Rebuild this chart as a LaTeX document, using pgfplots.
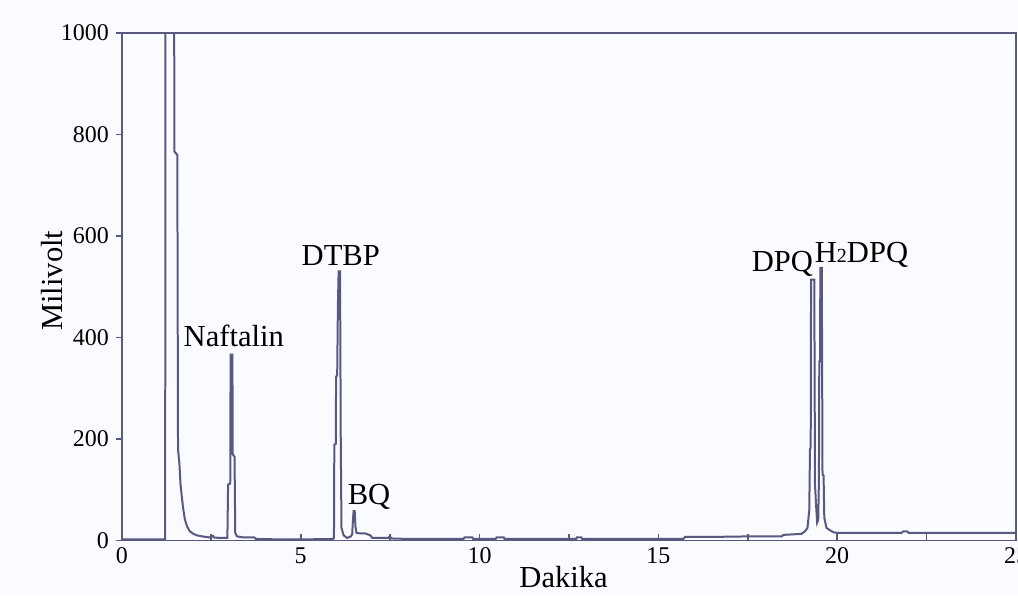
\documentclass[border=0pt]{standalone}
\usepackage{pgfplots}
\pgfplotsset{compat=1.18}
\usepackage{fontspec}
\setmainfont{Liberation Serif}

\definecolor{trace}{RGB}{88,88,128}
\definecolor{paper}{RGB}{249,251,254}

\pgfplotstableread{
t mv
0.00 2
1.18 2
1.21 2
1.22 1100
1.46 1100
1.47 766
1.55 760
1.57 180
1.61 150
1.64 110
1.67 90
1.71 65
1.76 42
1.82 28
1.90 18
2.00 13
2.10 10
2.25 8
2.45 6
2.55 9
2.57 6
2.70 5
2.95 5
2.97 110
3.03 112
3.04 366
3.09 366
3.10 170
3.15 165
3.17 15
3.22 8
3.40 6
3.70 6
3.75 3
4.50 2
5.00 2
5.90 3
5.93 5
5.94 189
5.98 190
5.99 323
6.02 325
6.04 461
6.06 530
6.10 530
6.12 200
6.14 25
6.20 10
6.30 5
6.40 8
6.44 12
6.46 40
6.48 58
6.51 58
6.53 28
6.56 15
6.65 14
6.80 14
6.95 10
7.00 5
7.45 5
7.50 9
7.52 4
8.00 3
9.55 3
9.58 6
9.80 6
9.82 3
10.45 3
10.48 6
10.68 6
10.70 3
12.70 3
12.72 6
12.85 6
12.87 3
15.70 3
15.75 7
16.50 7
17.50 8
18.45 8
18.50 11
19.00 13
19.10 18
19.17 25
19.22 60
19.24 180
19.26 182
19.27 514
19.36 514
19.38 110
19.41 70
19.44 35
19.47 40
19.49 120
19.50 353
19.52 353
19.53 537
19.57 537
19.59 130
19.62 128
19.64 45
19.70 25
19.80 20
19.90 16
20.00 15
21.80 15
21.85 18
21.95 18
22.00 15
25.00 15
}\chromatogram

\begin{document}
\begin{tikzpicture}
% page background
\fill[paper] (-61pt,-27.5pt) rectangle (448.5pt,270.5pt);
\begin{axis}[
  scale only axis,
  width=447.5pt, height=254pt,
  xmin=0, xmax=25, ymin=0, ymax=1000,
  axis line style={trace, line width=0.8pt},
  xtick={0,5,10,15,20,25},
  minor xtick={2.5,7.5,12.5,17.5,22.5},
  ytick={0,200,400,600,800,1000},
  xtick align=inside, ytick align=outside,
  xtick pos=bottom, ytick pos=left,
  major tick length=3pt, minor tick length=3pt,
  tick style={trace, line width=0.8pt},
  tick label style={font=\fontsize{12}{14}\selectfont},
  /pgf/number format/assume math mode=true,
  /pgf/number format/1000 sep={},
  xlabel={Dakika}, ylabel={Milivolt},
  label style={font=\fontsize{15.3}{18}\selectfont},
  xlabel style={at={(axis description cs:0.494,0)}, anchor=base, yshift=-23.5pt},
  ylabel style={at={(axis description cs:-0.0782,0.512)}, anchor=center},
]
\addplot[trace, line width=1pt, line join=miter] table[x=t, y=mv] {\chromatogram};

\begin{scope}[every node/.style={anchor=base, inner sep=0pt, font=\fontsize{15.3}{18}\selectfont}]
\node at (axis cs:3.13,382) {Naftalin};
\node at (axis cs:6.12,541) {DTBP};
\node at (axis cs:6.91,71) {BQ};
\node at (axis cs:18.47,530) {DPQ};
\node at (axis cs:20.68,547) {H{\fontsize{10}{10}\selectfont 2}DPQ};
\end{scope}
\end{axis}
\pgfresetboundingbox
\path[use as bounding box] (-61pt,-27.5pt) rectangle (448.5pt,270.5pt);
\end{tikzpicture}
\end{document}
